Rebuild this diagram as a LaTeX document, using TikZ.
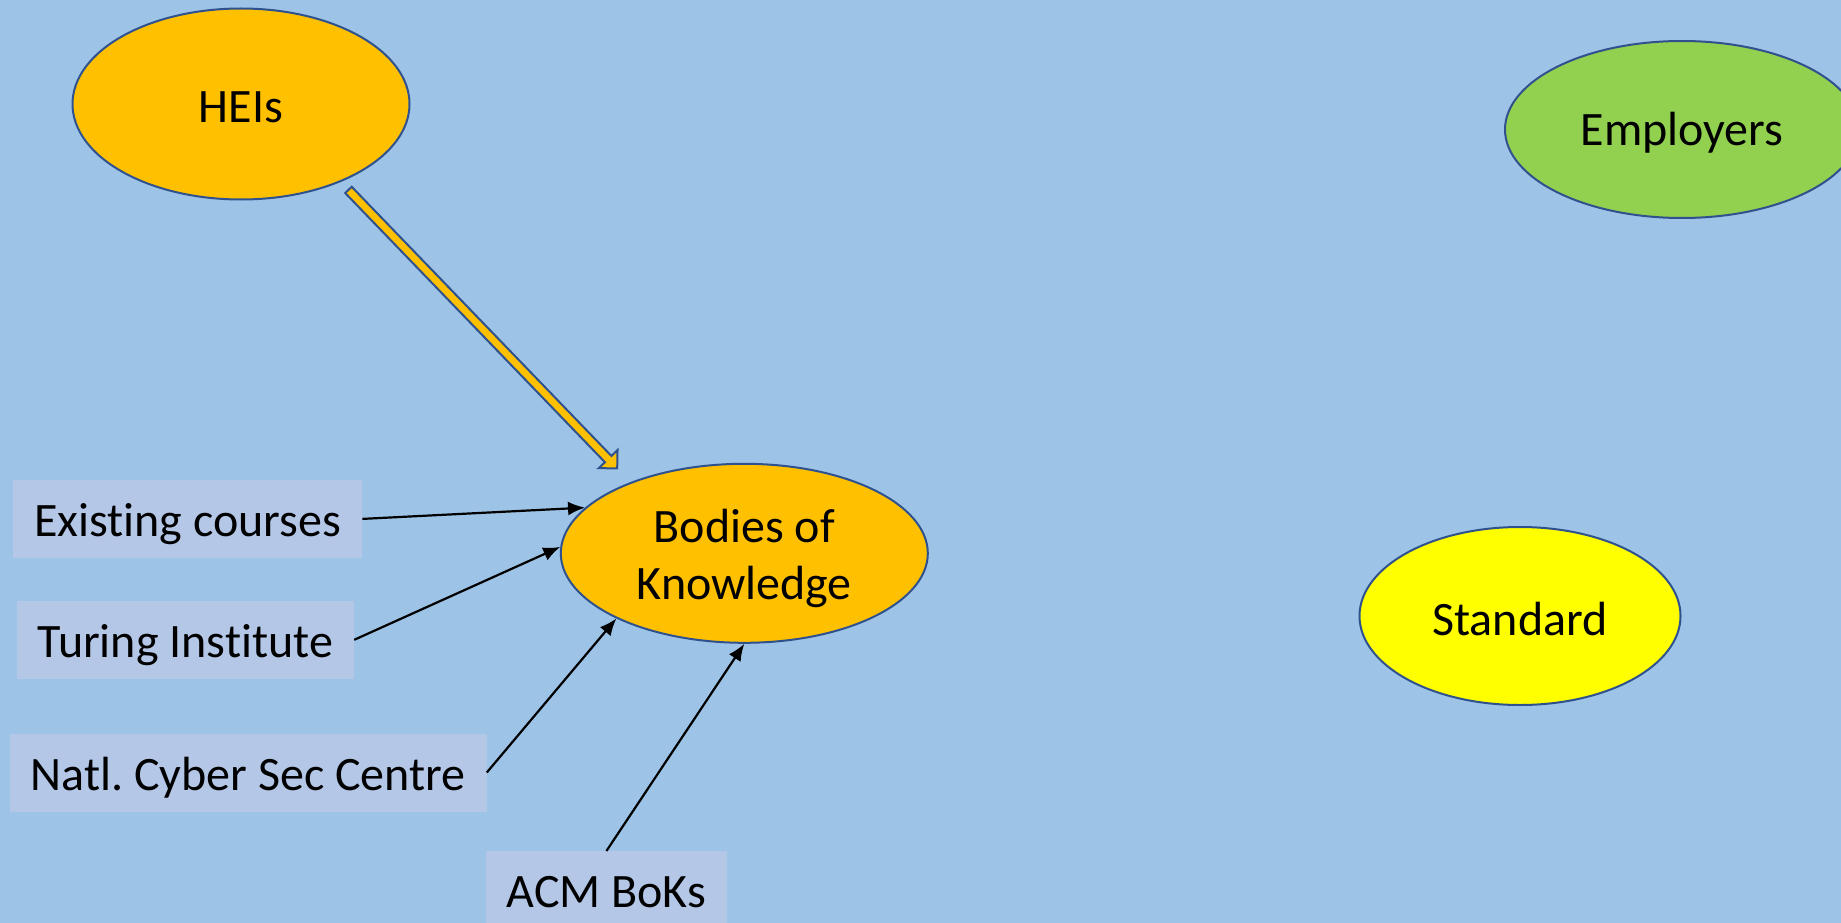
\documentclass[tikz,border=0pt]{standalone}
\usepackage{fontspec}
\setmainfont{Carlito}[Ligatures=NoCommon]
\usetikzlibrary{shapes.geometric,arrows.meta,calc}
\definecolor{bgblue}{HTML}{9DC3E6}
\definecolor{boxfill}{HTML}{B4C7E7}
\definecolor{outl}{HTML}{2F528F}
\definecolor{orng}{HTML}{FFC000}
\definecolor{grn}{HTML}{92D050}
\definecolor{ylw}{HTML}{FFFF00}
\newcommand{\lowtxt}[1]{\raisebox{-3pt}[\height][\depth]{#1}}
\tikzset{
  oval/.style={ellipse, draw=outl, line width=2pt, inner sep=0pt, align=center, font=\fontsize{48}{57}\selectfont},
  srcbox/.style={rectangle, fill=boxfill, inner xsep=21pt, minimum height=78pt, text height=40pt, text depth=5pt, anchor=west, font=\fontsize{48}{57}\selectfont},
  feed/.style={line width=2.2pt, -{Latex[length=17pt,width=14pt]}},
  blockarrow/.style={fill=orng, draw=outl, line width=2pt, line join=miter}
}
\begin{document}
\frenchspacing
\begin{tikzpicture}[x=1pt,y=-1pt]
\useasboundingbox (0,0) rectangle (1841,923);
\fill[bgblue] (0,0) rectangle (1841,923);
\clip (0,0) rectangle (1841,923);
% ellipses
\node[oval, fill=orng, minimum width=337pt, minimum height=191pt] (heis) at (241,104) {\lowtxt{HEIs}};
\node[oval, fill=grn, minimum width=354pt, minimum height=177pt] (emp) at (1682,129.5) {\lowtxt{Employers}};
\node[oval, fill=orng, minimum width=367pt, minimum height=179pt] (bok) at (744.3,553.3) {\raisebox{-6pt}[\height][\depth]{\begin{tabular}{@{}c@{}}Bodies of\\Knowledge\end{tabular}}};
\node[oval, fill=ylw, minimum width=321pt, minimum height=178pt] (std) at (1520,616) {\lowtxt{Standard}};
% source boxes
\node[srcbox] (ec) at (12.9,518.9) {Existing courses};
\node[srcbox] (ti) at (16.4,639.8) {Turing Institute};
\node[srcbox] (ncsc) at (9.4,772.5) {Natl. Cyber Sec Centre};
\node[srcbox, anchor=north] (acm) at (606.4,851) {ACM BoKs};
% thin arrows
\draw[feed] (ec.east) -- (bok.164);
\draw[feed] (ti.east) -- (bok.178);
\draw[feed] (ncsc.east) -- (bok.207);
\draw[feed] (acm.north) -- (bok.south);
% block arrow HEIs -> BoK
\coordinate (hs) at ($(heis.-38)!11pt!(bok.148)$);
\coordinate (ht) at ($(bok.148)!19pt!(heis.-38)$);
\coordinate (hb) at ($(ht)!13pt!(hs)$);
\draw[blockarrow] ($(hs)!4.5pt!90:(ht)$) -- ($(hb)!4.5pt!90:(ht)$) -- ($(hb)!13pt!90:(ht)$) -- (ht) -- ($(hb)!13pt!-90:(ht)$) -- ($(hb)!4.5pt!-90:(ht)$) -- ($(hs)!4.5pt!-90:(ht)$) -- cycle;
\end{tikzpicture}
\end{document}
